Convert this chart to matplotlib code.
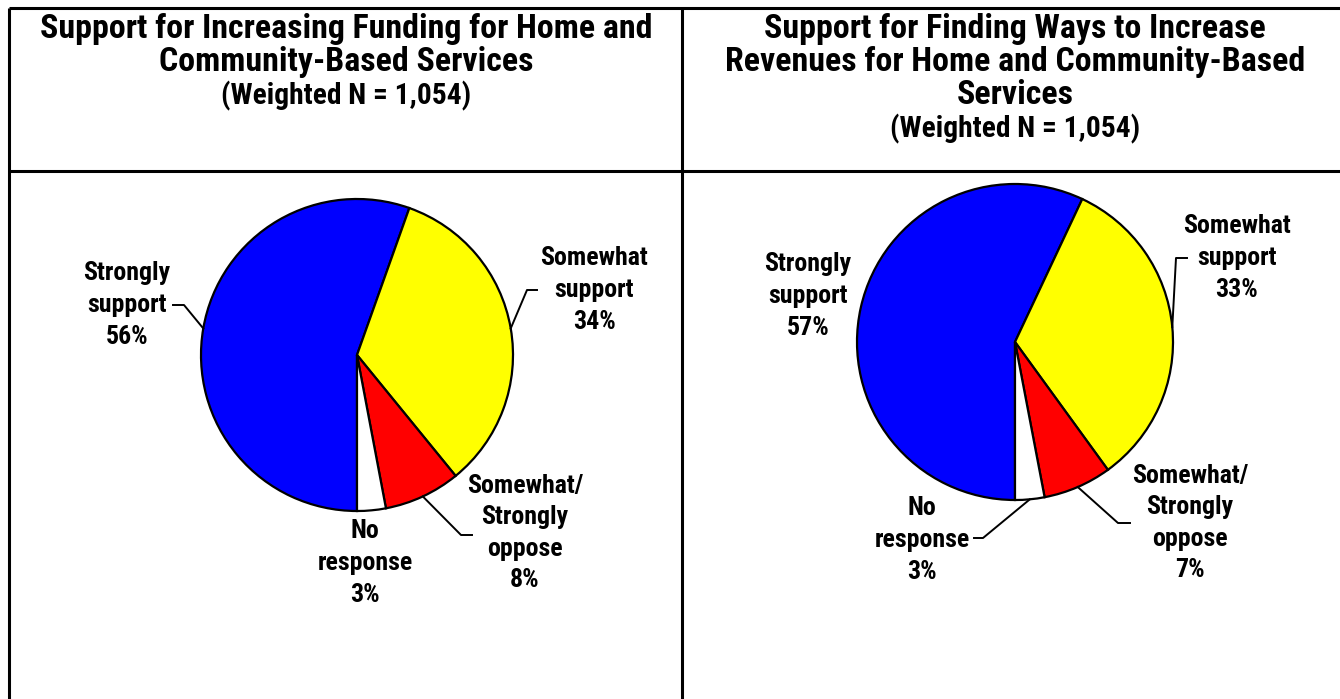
import matplotlib
matplotlib.use("Agg")
import matplotlib.pyplot as plt
from matplotlib.lines import Line2D
from matplotlib.font_manager import FontProperties
import numpy as np

# ---- data -------------------------------------------------------------
categories = ["Strongly support", "Somewhat support",
              "Somewhat/Strongly oppose", "No response"]
label_lines = ["Strongly\nsupport", "Somewhat\nsupport",
               "Somewhat/\nStrongly\noppose", "No\nresponse"]
funding_pct = [56, 34, 8, 3]
revenue_pct = [57, 33, 7, 3]
slice_colors = ["#0000FF", "#FFFF00", "#FF0000", "#FFFFFF"]

titles = ["Support for Increasing Funding for Home and\nCommunity-Based Services",
          "Support for Finding Ways to Increase\nRevenues for Home and Community-Based\nServices"]
subtitle = "(Weighted N = 1,054)"

# ---- canvas (pixel coordinates, y measured from the top) --------------
W, H = 1340, 699
DPI = 100
FONT = ["Roboto Condensed", "Liberation Sans", "DejaVu Sans"]

fig = plt.figure(figsize=(W / DPI, H / DPI), dpi=DPI)
ax = fig.add_axes([0, 0, 1, 1])
renderer = fig.canvas.get_renderer()


def Y(y):
    return H - y


def fit_size(sample, width_px):
    """Font size (pt) at which `sample` is width_px pixels wide."""
    fp = FontProperties(family=FONT, weight="bold", size=10)
    w, _, _ = renderer.get_text_width_height_descent(sample, fp, ismath=False)
    return 10 * width_px / w


def spacing_for(size, pitch_px):
    """Linespacing factor giving a line pitch of pitch_px pixels."""
    fp = FontProperties(family=FONT, weight="bold", size=size)
    _, h, _ = renderer.get_text_width_height_descent("lp", fp, ismath=False)
    return pitch_px / h


TITLE_SIZE = fit_size("Support for Increasing Funding for Home and", 610)
SUB_SIZE = fit_size(subtitle, 250)
LABEL_SIZE = fit_size("Strongly", 87)
TITLE_LS = spacing_for(TITLE_SIZE, 33.5)
LABEL_LS = spacing_for(LABEL_SIZE, 33.5)

# table borders
border_kw = dict(color="black", linewidth=2.2, solid_capstyle="butt")
for xs, ys in [([9, W], [8, 8]), ([9, W], [171, 171]),
               ([9, 9], [8, H]), ([682, 682], [8, H])]:
    ax.add_line(Line2D(xs, [Y(v) for v in ys], **border_kw))

# titles: (x centre, top of title block, y centre of subtitle)
title_pos = [(346, 13, 96), (1015, 13, 129)]
for (tx, ty, sy), t in zip(title_pos, titles):
    ax.text(tx, Y(ty), t, ha="center", va="top", fontsize=TITLE_SIZE,
            fontweight="bold", family=FONT, linespacing=TITLE_LS)
    ax.text(tx, Y(sy), subtitle, ha="center", va="center",
            fontsize=SUB_SIZE, fontweight="bold", family=FONT)

# pie layout: centre, radius, label centres, leader elbows
pies = [
    dict(values=funding_pct, center=(357, 355), radius=156,
         labels=[(127, 305), (594, 290), (525, 533), (365, 563)],
         leaders=[[(184, 305), (173, 305)],
                  [(527, 290), (537, 290)],
                  [(461, 535), (472, 535)],
                  None]),
    dict(values=revenue_pct, center=(1015, 342), radius=158,
         labels=[(808, 296), (1237, 258), (1190, 523), (922, 540)],
         leaders=[None,
                  [(1176, 258), (1187, 258)],
                  [(1118, 523), (1130, 523)],
                  [(983, 538), (974, 538)]]),
]

for p in pies:
    cx, cy = p["center"]
    r = p["radius"]
    wedges, _ = ax.pie(p["values"], colors=slice_colors, startangle=-90,
                       counterclock=False, center=(cx, Y(cy)), radius=r,
                       wedgeprops=dict(edgecolor="black", linewidth=1.6))
    for w, val, name, (lx, ly), lead in zip(wedges, p["values"], label_lines,
                                             p["labels"], p["leaders"]):
        ax.text(lx, Y(ly), f"{name}\n{val}%", ha="center", va="center",
                fontsize=LABEL_SIZE, fontweight="bold", family=FONT,
                linespacing=LABEL_LS)
        if lead is not None:
            mid = np.deg2rad((w.theta1 + w.theta2) / 2)
            ax_pt = (cx + r * np.cos(mid), Y(cy) + r * np.sin(mid))
            xs = [ax_pt[0]] + [q[0] for q in lead]
            ys = [ax_pt[1]] + [Y(q[1]) for q in lead]
            ax.add_line(Line2D(xs, ys, color="black", linewidth=1.4))

ax.set_xlim(0, W)
ax.set_ylim(0, H)
ax.set_aspect("auto")
ax.axis("off")

fig.savefig("out.png", dpi=DPI, facecolor="white")
